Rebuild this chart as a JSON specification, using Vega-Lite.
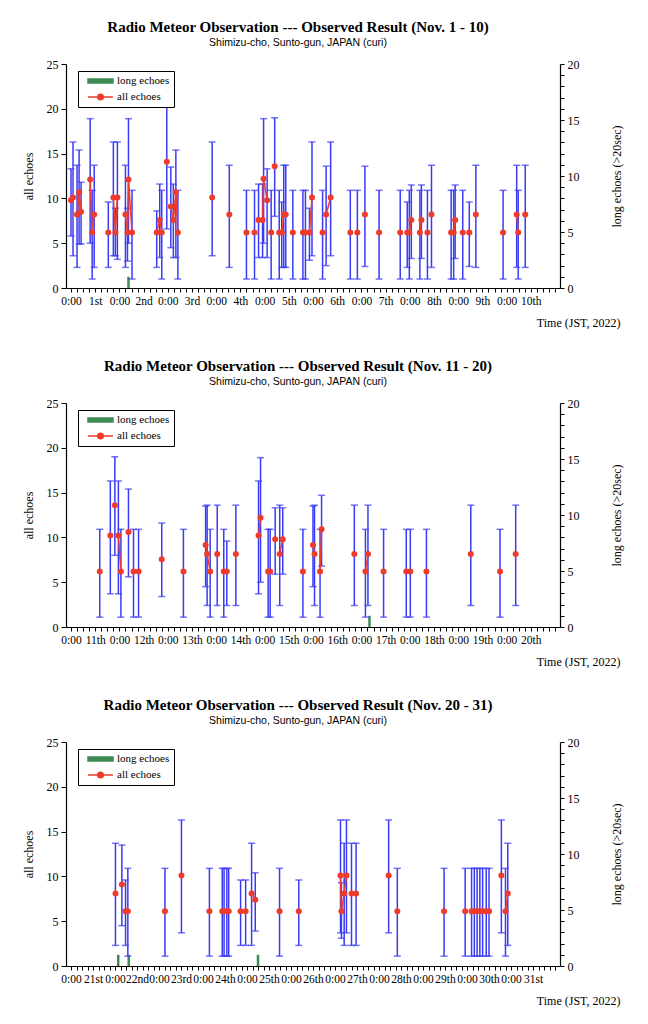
{
"$schema": "https://vega.github.io/schema/vega-lite/v6.json",
"padding": {"left": 22, "top": 19, "right": 5, "bottom": 5},
"datasets": {
"long": [
{"p":1,"t":"2022-11-02T04:30:00Z","n":1},
{"p":2,"t":"2022-11-17T04:00:00Z","n":1},
{"p":3,"t":"2022-11-22T01:45:00Z","n":1},
{"p":3,"t":"2022-11-22T07:30:00Z","n":1},
{"p":3,"t":"2022-11-25T06:00:00Z","n":1}
],
"echoes": [
{"p":1,"t":"2022-11-01T00:00:00Z","v":9.8,"lo":5.8,"hi":13.3,"s":"a1"},
{"p":1,"t":"2022-11-01T01:00:00Z","v":10.1,"lo":3.6,"hi":16.3,"s":"a1"},
{"p":1,"t":"2022-11-01T03:00:00Z","v":8.2,"lo":2.3,"hi":13.7,"s":"a2"},
{"p":1,"t":"2022-11-01T04:00:00Z","v":10.7,"lo":4.9,"hi":15.4,"s":"a2"},
{"p":1,"t":"2022-11-01T05:00:00Z","v":8.5,"lo":4.9,"hi":11.8,"s":"a2"},
{"p":1,"t":"2022-11-01T09:30:00Z","v":12.1,"lo":5.0,"hi":18.9,"s":"a3"},
{"p":1,"t":"2022-11-01T10:30:00Z","v":6.2,"lo":1.0,"hi":10.9,"s":"a3"},
{"p":1,"t":"2022-11-01T11:30:00Z","v":8.2,"lo":2.3,"hi":13.7,"s":"a3"},
{"p":1,"t":"2022-11-01T18:30:00Z","v":6.2,"lo":2.3,"hi":9.6,"s":"a4"},
{"p":1,"t":"2022-11-01T21:00:00Z","v":10.1,"lo":3.6,"hi":16.3,"s":"a5"},
{"p":1,"t":"2022-11-01T22:00:00Z","v":6.2,"lo":3.6,"hi":8.9,"s":"a5"},
{"p":1,"t":"2022-11-01T23:00:00Z","v":10.1,"lo":3.2,"hi":16.3,"s":"a5"},
{"p":1,"t":"2022-11-02T03:00:00Z","v":8.2,"lo":2.3,"hi":13.7,"s":"a6"},
{"p":1,"t":"2022-11-02T04:00:00Z","v":6.2,"lo":3.0,"hi":8.9,"s":"a6"},
{"p":1,"t":"2022-11-02T04:30:00Z","v":12.1,"lo":5.0,"hi":18.9,"s":"a6"},
{"p":1,"t":"2022-11-02T06:15:00Z","v":6.2,"lo":1.0,"hi":10.9,"s":"a6"},
{"p":1,"t":"2022-11-02T18:30:00Z","v":6.2,"lo":2.3,"hi":8.6,"s":"a7"},
{"p":1,"t":"2022-11-02T20:00:00Z","v":7.6,"lo":3.4,"hi":11.6,"s":"a7"},
{"p":1,"t":"2022-11-02T21:00:00Z","v":6.2,"lo":1.0,"hi":10.9,"s":"a7"},
{"p":1,"t":"2022-11-02T23:30:00Z","v":14.1,"lo":6.6,"hi":22.0,"s":"a8"},
{"p":1,"t":"2022-11-03T01:30:00Z","v":9.1,"lo":4.5,"hi":13.5,"s":"a9"},
{"p":1,"t":"2022-11-03T02:45:00Z","v":7.6,"lo":3.4,"hi":11.6,"s":"a9"},
{"p":1,"t":"2022-11-03T04:00:00Z","v":10.7,"lo":3.4,"hi":15.4,"s":"a9"},
{"p":1,"t":"2022-11-03T05:00:00Z","v":6.2,"lo":1.0,"hi":10.9,"s":"a9"},
{"p":1,"t":"2022-11-03T22:00:00Z","v":10.1,"lo":3.6,"hi":16.3,"s":"a10"},
{"p":1,"t":"2022-11-04T06:30:00Z","v":8.2,"lo":2.3,"hi":13.7,"s":"a11"},
{"p":1,"t":"2022-11-04T15:00:00Z","v":6.2,"lo":1.0,"hi":10.9,"s":"a12"},
{"p":1,"t":"2022-11-04T19:00:00Z","v":6.2,"lo":1.0,"hi":10.9,"s":"a13"},
{"p":1,"t":"2022-11-04T21:00:00Z","v":7.6,"lo":3.4,"hi":11.6,"s":"a14"},
{"p":1,"t":"2022-11-04T23:00:00Z","v":7.6,"lo":3.4,"hi":11.6,"s":"a15"},
{"p":1,"t":"2022-11-04T23:30:00Z","v":12.2,"lo":5.0,"hi":18.9,"s":"a15"},
{"p":1,"t":"2022-11-05T01:15:00Z","v":9.8,"lo":3.4,"hi":13.3,"s":"a15"},
{"p":1,"t":"2022-11-05T03:15:00Z","v":6.2,"lo":1.0,"hi":10.9,"s":"a16"},
{"p":1,"t":"2022-11-05T05:00:00Z","v":13.6,"lo":8.0,"hi":19.0,"s":"a17"},
{"p":1,"t":"2022-11-05T07:15:00Z","v":6.2,"lo":1.0,"hi":10.9,"s":"a18"},
{"p":1,"t":"2022-11-05T08:30:00Z","v":6.2,"lo":2.3,"hi":9.6,"s":"a19"},
{"p":1,"t":"2022-11-05T09:30:00Z","v":8.2,"lo":2.3,"hi":13.7,"s":"a19"},
{"p":1,"t":"2022-11-05T10:30:00Z","v":8.2,"lo":2.3,"hi":13.7,"s":"a19"},
{"p":1,"t":"2022-11-05T14:00:00Z","v":6.2,"lo":1.0,"hi":10.9,"s":"a20"},
{"p":1,"t":"2022-11-05T19:00:00Z","v":6.2,"lo":1.0,"hi":10.9,"s":"a21"},
{"p":1,"t":"2022-11-05T20:15:00Z","v":6.2,"lo":1.0,"hi":10.9,"s":"a21"},
{"p":1,"t":"2022-11-05T22:15:00Z","v":6.2,"lo":3.1,"hi":8.9,"s":"a22"},
{"p":1,"t":"2022-11-05T23:30:00Z","v":10.1,"lo":3.6,"hi":16.3,"s":"a22"},
{"p":1,"t":"2022-11-06T04:45:00Z","v":6.2,"lo":1.0,"hi":10.9,"s":"a23"},
{"p":1,"t":"2022-11-06T06:30:00Z","v":8.2,"lo":2.5,"hi":13.6,"s":"a24"},
{"p":1,"t":"2022-11-06T08:45:00Z","v":10.1,"lo":3.6,"hi":16.3,"s":"a24"},
{"p":1,"t":"2022-11-06T18:30:00Z","v":6.2,"lo":1.0,"hi":10.9,"s":"a25"},
{"p":1,"t":"2022-11-06T22:00:00Z","v":6.2,"lo":1.0,"hi":10.9,"s":"a26"},
{"p":1,"t":"2022-11-07T01:45:00Z","v":8.2,"lo":2.4,"hi":13.6,"s":"a27"},
{"p":1,"t":"2022-11-07T08:45:00Z","v":6.2,"lo":1.0,"hi":10.9,"s":"a28"},
{"p":1,"t":"2022-11-07T19:15:00Z","v":6.2,"lo":1.0,"hi":10.9,"s":"a29"},
{"p":1,"t":"2022-11-07T22:45:00Z","v":6.2,"lo":2.3,"hi":9.6,"s":"a30"},
{"p":1,"t":"2022-11-07T23:45:00Z","v":6.2,"lo":1.0,"hi":10.9,"s":"a30"},
{"p":1,"t":"2022-11-08T00:45:00Z","v":7.6,"lo":3.3,"hi":11.5,"s":"a30"},
{"p":1,"t":"2022-11-08T05:00:00Z","v":6.2,"lo":1.0,"hi":10.9,"s":"a31"},
{"p":1,"t":"2022-11-08T05:45:00Z","v":7.6,"lo":3.3,"hi":11.5,"s":"a31"},
{"p":1,"t":"2022-11-08T08:45:00Z","v":6.2,"lo":1.0,"hi":10.9,"s":"a32"},
{"p":1,"t":"2022-11-08T10:45:00Z","v":8.2,"lo":2.3,"hi":13.7,"s":"a33"},
{"p":1,"t":"2022-11-08T20:30:00Z","v":6.2,"lo":1.0,"hi":10.9,"s":"a34"},
{"p":1,"t":"2022-11-08T21:45:00Z","v":6.2,"lo":1.0,"hi":10.9,"s":"a35"},
{"p":1,"t":"2022-11-08T22:30:00Z","v":7.6,"lo":3.3,"hi":11.5,"s":"a35"},
{"p":1,"t":"2022-11-09T02:15:00Z","v":6.2,"lo":1.0,"hi":10.9,"s":"a36"},
{"p":1,"t":"2022-11-09T05:30:00Z","v":6.2,"lo":2.4,"hi":9.6,"s":"a37"},
{"p":1,"t":"2022-11-09T08:45:00Z","v":8.2,"lo":2.3,"hi":13.7,"s":"a38"},
{"p":1,"t":"2022-11-09T22:15:00Z","v":6.2,"lo":1.0,"hi":10.9,"s":"a39"},
{"p":1,"t":"2022-11-10T05:00:00Z","v":8.2,"lo":2.3,"hi":13.7,"s":"a40"},
{"p":1,"t":"2022-11-10T05:45:00Z","v":6.2,"lo":1.0,"hi":10.9,"s":"a40"},
{"p":1,"t":"2022-11-10T09:15:00Z","v":8.2,"lo":2.3,"hi":13.7,"s":"a41"},
{"p":2,"t":"2022-11-11T14:15:00Z","v":6.2,"lo":1.1,"hi":10.9,"s":"b1"},
{"p":2,"t":"2022-11-11T19:30:00Z","v":10.2,"lo":3.7,"hi":16.3,"s":"b2"},
{"p":2,"t":"2022-11-11T21:45:00Z","v":13.6,"lo":8.0,"hi":19.0,"s":"b3"},
{"p":2,"t":"2022-11-11T23:30:00Z","v":10.2,"lo":3.7,"hi":16.3,"s":"b4"},
{"p":2,"t":"2022-11-12T00:45:00Z","v":6.2,"lo":1.1,"hi":10.9,"s":"b4"},
{"p":2,"t":"2022-11-12T04:30:00Z","v":10.6,"lo":5.6,"hi":15.4,"s":"b5"},
{"p":2,"t":"2022-11-12T07:00:00Z","v":6.2,"lo":1.1,"hi":10.9,"s":"b6"},
{"p":2,"t":"2022-11-12T09:30:00Z","v":6.2,"lo":1.1,"hi":10.9,"s":"b7"},
{"p":2,"t":"2022-11-12T21:00:00Z","v":7.55,"lo":3.4,"hi":11.6,"s":"b8"},
{"p":2,"t":"2022-11-13T07:45:00Z","v":6.2,"lo":1.1,"hi":10.9,"s":"b9"},
{"p":2,"t":"2022-11-13T18:45:00Z","v":9.15,"lo":4.5,"hi":13.5,"s":"b10"},
{"p":2,"t":"2022-11-13T19:30:00Z","v":8.15,"lo":2.4,"hi":13.6,"s":"b10"},
{"p":2,"t":"2022-11-13T21:00:00Z","v":6.2,"lo":1.1,"hi":10.9,"s":"b10"},
{"p":2,"t":"2022-11-14T00:30:00Z","v":8.15,"lo":2.4,"hi":13.6,"s":"b11"},
{"p":2,"t":"2022-11-14T03:45:00Z","v":6.2,"lo":1.1,"hi":10.9,"s":"b12"},
{"p":2,"t":"2022-11-14T05:15:00Z","v":6.2,"lo":2.4,"hi":9.6,"s":"b12"},
{"p":2,"t":"2022-11-14T09:45:00Z","v":8.15,"lo":2.4,"hi":13.6,"s":"b13"},
{"p":2,"t":"2022-11-14T21:00:00Z","v":10.2,"lo":3.7,"hi":16.3,"s":"b14"},
{"p":2,"t":"2022-11-14T22:00:00Z","v":12.2,"lo":5.0,"hi":18.9,"s":"b14"},
{"p":2,"t":"2022-11-15T01:45:00Z","v":6.2,"lo":1.1,"hi":10.9,"s":"b15"},
{"p":2,"t":"2022-11-15T02:45:00Z","v":6.2,"lo":1.1,"hi":10.9,"s":"b15"},
{"p":2,"t":"2022-11-15T05:15:00Z","v":9.8,"lo":5.9,"hi":13.3,"s":"b16"},
{"p":2,"t":"2022-11-15T07:30:00Z","v":8.15,"lo":2.4,"hi":13.6,"s":"b17"},
{"p":2,"t":"2022-11-15T09:00:00Z","v":9.8,"lo":5.9,"hi":13.3,"s":"b17"},
{"p":2,"t":"2022-11-15T19:00:00Z","v":6.2,"lo":1.1,"hi":10.9,"s":"b18"},
{"p":2,"t":"2022-11-16T00:00:00Z","v":9.15,"lo":4.5,"hi":13.5,"s":"b19"},
{"p":2,"t":"2022-11-16T00:45:00Z","v":8.15,"lo":2.4,"hi":13.6,"s":"b19"},
{"p":2,"t":"2022-11-16T03:30:00Z","v":6.2,"lo":1.1,"hi":10.9,"s":"b20"},
{"p":2,"t":"2022-11-16T04:15:00Z","v":10.9,"lo":6.8,"hi":14.7,"s":"b20"},
{"p":2,"t":"2022-11-16T20:30:00Z","v":8.15,"lo":2.4,"hi":13.6,"s":"b21"},
{"p":2,"t":"2022-11-17T02:00:00Z","v":6.2,"lo":1.1,"hi":10.9,"s":"b22"},
{"p":2,"t":"2022-11-17T03:15:00Z","v":8.15,"lo":2.4,"hi":13.6,"s":"b22"},
{"p":2,"t":"2022-11-17T11:00:00Z","v":6.2,"lo":1.1,"hi":10.9,"s":"b23"},
{"p":2,"t":"2022-11-17T22:15:00Z","v":6.2,"lo":1.1,"hi":10.9,"s":"b24"},
{"p":2,"t":"2022-11-18T00:15:00Z","v":6.2,"lo":1.1,"hi":10.9,"s":"b25"},
{"p":2,"t":"2022-11-18T08:15:00Z","v":6.2,"lo":1.1,"hi":10.9,"s":"b26"},
{"p":2,"t":"2022-11-19T06:15:00Z","v":8.15,"lo":2.4,"hi":13.6,"s":"b27"},
{"p":2,"t":"2022-11-19T20:45:00Z","v":6.2,"lo":1.1,"hi":10.9,"s":"b28"},
{"p":2,"t":"2022-11-20T04:30:00Z","v":8.15,"lo":2.4,"hi":13.6,"s":"b29"},
{"p":3,"t":"2022-11-22T00:15:00Z","v":8.1,"lo":2.3,"hi":13.7,"s":"c1"},
{"p":3,"t":"2022-11-22T03:45:00Z","v":9.1,"lo":4.5,"hi":13.5,"s":"c2"},
{"p":3,"t":"2022-11-22T05:45:00Z","v":6.1,"lo":2.3,"hi":9.6,"s":"c3"},
{"p":3,"t":"2022-11-22T07:00:00Z","v":6.1,"lo":1.1,"hi":10.9,"s":"c3"},
{"p":3,"t":"2022-11-23T03:15:00Z","v":6.1,"lo":1.1,"hi":10.9,"s":"c4"},
{"p":3,"t":"2022-11-23T12:15:00Z","v":10.1,"lo":3.7,"hi":16.3,"s":"c5"},
{"p":3,"t":"2022-11-24T03:30:00Z","v":6.1,"lo":1.1,"hi":10.9,"s":"c6"},
{"p":3,"t":"2022-11-24T10:30:00Z","v":6.1,"lo":1.1,"hi":10.9,"s":"c7"},
{"p":3,"t":"2022-11-24T11:30:00Z","v":6.1,"lo":1.1,"hi":10.9,"s":"c7"},
{"p":3,"t":"2022-11-24T13:00:00Z","v":6.1,"lo":1.1,"hi":10.9,"s":"c8"},
{"p":3,"t":"2022-11-24T14:00:00Z","v":6.1,"lo":1.1,"hi":10.9,"s":"c8"},
{"p":3,"t":"2022-11-24T20:30:00Z","v":6.1,"lo":2.3,"hi":9.6,"s":"c9"},
{"p":3,"t":"2022-11-24T23:15:00Z","v":6.1,"lo":2.3,"hi":9.6,"s":"c10"},
{"p":3,"t":"2022-11-25T02:30:00Z","v":8.1,"lo":2.3,"hi":13.7,"s":"c11"},
{"p":3,"t":"2022-11-25T04:30:00Z","v":7.4,"lo":3.9,"hi":10.4,"s":"c11"},
{"p":3,"t":"2022-11-25T17:45:00Z","v":6.1,"lo":1.1,"hi":10.9,"s":"c12"},
{"p":3,"t":"2022-11-26T04:15:00Z","v":6.1,"lo":2.3,"hi":9.6,"s":"c13"},
{"p":3,"t":"2022-11-27T03:00:00Z","v":10.1,"lo":3.7,"hi":16.3,"s":"c14"},
{"p":3,"t":"2022-11-27T03:30:00Z","v":6.1,"lo":3.1,"hi":9.3,"s":"c14"},
{"p":3,"t":"2022-11-27T05:00:00Z","v":8.1,"lo":2.3,"hi":13.7,"s":"c14"},
{"p":3,"t":"2022-11-27T06:15:00Z","v":10.1,"lo":3.7,"hi":16.3,"s":"c14"},
{"p":3,"t":"2022-11-27T09:00:00Z","v":8.1,"lo":2.3,"hi":13.7,"s":"c15"},
{"p":3,"t":"2022-11-27T11:30:00Z","v":8.1,"lo":2.3,"hi":13.7,"s":"c15"},
{"p":3,"t":"2022-11-28T05:15:00Z","v":10.1,"lo":3.7,"hi":16.3,"s":"c16"},
{"p":3,"t":"2022-11-28T10:00:00Z","v":6.1,"lo":1.1,"hi":10.9,"s":"c17"},
{"p":3,"t":"2022-11-29T11:30:00Z","v":6.1,"lo":1.1,"hi":10.9,"s":"c18"},
{"p":3,"t":"2022-11-29T23:00:00Z","v":6.1,"lo":1.1,"hi":10.9,"s":"c19"},
{"p":3,"t":"2022-11-30T02:30:00Z","v":6.1,"lo":1.1,"hi":10.9,"s":"c20"},
{"p":3,"t":"2022-11-30T04:00:00Z","v":6.1,"lo":1.1,"hi":10.9,"s":"c20"},
{"p":3,"t":"2022-11-30T05:30:00Z","v":6.1,"lo":1.1,"hi":10.9,"s":"c21"},
{"p":3,"t":"2022-11-30T07:00:00Z","v":6.1,"lo":1.1,"hi":10.9,"s":"c21"},
{"p":3,"t":"2022-11-30T08:30:00Z","v":6.1,"lo":1.1,"hi":10.9,"s":"c21"},
{"p":3,"t":"2022-11-30T10:30:00Z","v":6.1,"lo":1.1,"hi":10.9,"s":"c22"},
{"p":3,"t":"2022-11-30T12:00:00Z","v":6.1,"lo":1.1,"hi":10.9,"s":"c22"},
{"p":3,"t":"2022-11-30T18:45:00Z","v":10.1,"lo":3.7,"hi":16.3,"s":"c23"},
{"p":3,"t":"2022-11-30T21:00:00Z","v":6.1,"lo":1.1,"hi":10.9,"s":"c24"},
{"p":3,"t":"2022-11-30T22:15:00Z","v":8.1,"lo":2.3,"hi":13.7,"s":"c24"}
]
},
"spacing": 30,
"resolve": {"scale": {"x": "independent", "y": "independent", "color": "independent"}, "legend": {"color": "independent"}},
"vconcat": [
{
"title": {"text": "Radio Meteor Observation --- Observed Result (Nov. 1 - 10)", "subtitle": "Shimizu-cho, Sunto-gun, JAPAN (curi)"},
"width": 494, "height": 224,
"resolve": {"scale": {"y": "independent"}},
"layer": [
{"data": {"name": "long"}, "transform": [{"filter": "datum.p == 1"}],
"mark": {"type": "bar", "width": 2.5},
"encoding": {
"x": {"field": "t", "type": "temporal", "scale": {"type": "utc", "nice": false, "domain": [{"year": 2022, "month": 11, "date": 1, "utc": true}, {"year": 2022, "month": 11, "date": 11, "utc": true}]},
"axis": {"title": "Time (JST, 2022)", "tickCount": 80, "labelExpr": "utchours(datum.value) == 12 ? (utcdate(datum.value) + (utcdate(datum.value) == 1 || utcdate(datum.value) == 21 ? 'st' : (utcdate(datum.value) == 2 || utcdate(datum.value) == 22 ? 'nd' : (utcdate(datum.value) == 3 || utcdate(datum.value) == 23 ? 'rd' : 'th')))) : (utchours(datum.value) == 0 && utcdate(datum.value) != 11 ? '0:00' : '')", "labelFlush": false, "labelAngle": 0, "labelFontSize": 11.5, "labelPadding": 3, "tickSize": 4, "titleX": 554, "titleY": 38, "titleAlign": "right", "titleBaseline": "alphabetic"}},
"y": {"field": "n", "type": "quantitative", "scale": {"domain": [0, 20], "nice": false},
"axis": {"orient": "right", "title": "long echoes (>20sec)", "tickCount": 20, "labelExpr": "datum.value % 5 == 0 ? datum.label : ''", "tickSize": 4, "labelPadding": 3, "titleX": 56, "titleY": 112, "titleAngle": 270, "titleAlign": "center", "titleBaseline": "middle"}},
"color": {"datum": "long echoes", "scale": {"domain": ["long echoes", "all echoes"], "range": ["#3d8c54", "#ee3b2b"]},
"legend": {"title": null, "orient": "none", "legendX": 12, "legendY": 7,
"encode": {"symbols": {"update": {
"shape": {"signal": "datum.value == 'long echoes' ? 'M0,-0.4H5V0.4H0Z' : 'M0,0H5M1.94,0A0.56,0.56,0,1,1,3.06,0A0.56,0.56,0,1,1,1.94,0Z'"},
"fill": {"signal": "datum.value == 'long echoes' ? '#3d8c54' : '#ee3b2b'"},
"stroke": {"signal": "datum.value == 'long echoes' ? '#3d8c54' : '#ee3b2b'"}}}}}}
}},
{"data": {"name": "echoes"}, "transform": [{"filter": "datum.p == 1"}],
"layer": [
{"mark": {"type": "rule", "color": "#3a3af6", "strokeWidth": 1.5},
"encoding": {"x": {"field": "t", "type": "temporal"}, "y": {"field": "lo", "type": "quantitative", "scale": {"domain": [0, 25], "nice": false}, "axis": {"title": "all echoes", "values": [0, 5, 10, 15, 20, 25], "tickSize": 5, "labelPadding": 3, "titleX": -38, "titleY": 112, "titleAngle": 270, "titleAlign": "center", "titleBaseline": "middle"}}, "y2": {"field": "hi"}}},
{"mark": {"type": "tick", "orient": "horizontal", "size": 7, "thickness": 1.5, "color": "#3a3af6"},
"encoding": {"x": {"field": "t", "type": "temporal"}, "y": {"field": "lo", "type": "quantitative"}}},
{"mark": {"type": "tick", "orient": "horizontal", "size": 7, "thickness": 1.5, "color": "#3a3af6"},
"encoding": {"x": {"field": "t", "type": "temporal"}, "y": {"field": "hi", "type": "quantitative"}}},
{"mark": {"type": "line", "strokeWidth": 1.5},
"encoding": {"x": {"field": "t", "type": "temporal"}, "y": {"field": "v", "type": "quantitative"}, "detail": {"field": "s"}, "color": {"datum": "all echoes"}}},
{"mark": {"type": "point", "filled": true, "size": 36, "opacity": 1},
"encoding": {"x": {"field": "t", "type": "temporal"}, "y": {"field": "v", "type": "quantitative"}, "color": {"datum": "all echoes"}}}
]}
]
},
{
"title": {"text": "Radio Meteor Observation --- Observed Result (Nov. 11 - 20)", "subtitle": "Shimizu-cho, Sunto-gun, JAPAN (curi)"},
"width": 494, "height": 224,
"resolve": {"scale": {"y": "independent"}},
"layer": [
{"data": {"name": "long"}, "transform": [{"filter": "datum.p == 2"}],
"mark": {"type": "bar", "width": 2.5},
"encoding": {
"x": {"field": "t", "type": "temporal", "scale": {"type": "utc", "nice": false, "domain": [{"year": 2022, "month": 11, "date": 11, "utc": true}, {"year": 2022, "month": 11, "date": 21, "utc": true}]},
"axis": {"title": "Time (JST, 2022)", "tickCount": 80, "labelExpr": "utchours(datum.value) == 12 ? (utcdate(datum.value) + (utcdate(datum.value) == 1 || utcdate(datum.value) == 21 ? 'st' : (utcdate(datum.value) == 2 || utcdate(datum.value) == 22 ? 'nd' : (utcdate(datum.value) == 3 || utcdate(datum.value) == 23 ? 'rd' : 'th')))) : (utchours(datum.value) == 0 && utcdate(datum.value) != 21 ? '0:00' : '')", "labelFlush": false, "labelAngle": 0, "labelFontSize": 11.5, "labelPadding": 3, "tickSize": 4, "titleX": 554, "titleY": 38, "titleAlign": "right", "titleBaseline": "alphabetic"}},
"y": {"field": "n", "type": "quantitative", "scale": {"domain": [0, 20], "nice": false},
"axis": {"orient": "right", "title": "long echoes (>20sec)", "tickCount": 20, "labelExpr": "datum.value % 5 == 0 ? datum.label : ''", "tickSize": 4, "labelPadding": 3, "titleX": 56, "titleY": 112, "titleAngle": 270, "titleAlign": "center", "titleBaseline": "middle"}},
"color": {"datum": "long echoes", "scale": {"domain": ["long echoes", "all echoes"], "range": ["#3d8c54", "#ee3b2b"]},
"legend": {"title": null, "orient": "none", "legendX": 12, "legendY": 7,
"encode": {"symbols": {"update": {
"shape": {"signal": "datum.value == 'long echoes' ? 'M0,-0.4H5V0.4H0Z' : 'M0,0H5M1.94,0A0.56,0.56,0,1,1,3.06,0A0.56,0.56,0,1,1,1.94,0Z'"},
"fill": {"signal": "datum.value == 'long echoes' ? '#3d8c54' : '#ee3b2b'"},
"stroke": {"signal": "datum.value == 'long echoes' ? '#3d8c54' : '#ee3b2b'"}}}}}}
}},
{"data": {"name": "echoes"}, "transform": [{"filter": "datum.p == 2"}],
"layer": [
{"mark": {"type": "rule", "color": "#3a3af6", "strokeWidth": 1.5},
"encoding": {"x": {"field": "t", "type": "temporal"}, "y": {"field": "lo", "type": "quantitative", "scale": {"domain": [0, 25], "nice": false}, "axis": {"title": "all echoes", "values": [0, 5, 10, 15, 20, 25], "tickSize": 5, "labelPadding": 3, "titleX": -38, "titleY": 112, "titleAngle": 270, "titleAlign": "center", "titleBaseline": "middle"}}, "y2": {"field": "hi"}}},
{"mark": {"type": "tick", "orient": "horizontal", "size": 7, "thickness": 1.5, "color": "#3a3af6"},
"encoding": {"x": {"field": "t", "type": "temporal"}, "y": {"field": "lo", "type": "quantitative"}}},
{"mark": {"type": "tick", "orient": "horizontal", "size": 7, "thickness": 1.5, "color": "#3a3af6"},
"encoding": {"x": {"field": "t", "type": "temporal"}, "y": {"field": "hi", "type": "quantitative"}}},
{"mark": {"type": "line", "strokeWidth": 1.5},
"encoding": {"x": {"field": "t", "type": "temporal"}, "y": {"field": "v", "type": "quantitative"}, "detail": {"field": "s"}, "color": {"datum": "all echoes"}}},
{"mark": {"type": "point", "filled": true, "size": 36, "opacity": 1},
"encoding": {"x": {"field": "t", "type": "temporal"}, "y": {"field": "v", "type": "quantitative"}, "color": {"datum": "all echoes"}}}
]}
]
},
{
"title": {"text": "Radio Meteor Observation --- Observed Result (Nov. 20 - 31)", "subtitle": "Shimizu-cho, Sunto-gun, JAPAN (curi)"},
"width": 494, "height": 224,
"resolve": {"scale": {"y": "independent"}},
"layer": [
{"data": {"name": "long"}, "transform": [{"filter": "datum.p == 3"}],
"mark": {"type": "bar", "width": 2.5},
"encoding": {
"x": {"field": "t", "type": "temporal", "scale": {"type": "utc", "nice": false, "domain": [{"year": 2022, "month": 11, "date": 21, "utc": true}, {"year": 2022, "month": 12, "date": 2, "utc": true}]},
"axis": {"title": "Time (JST, 2022)", "tickCount": 88, "labelExpr": "utchours(datum.value) == 12 ? (utcmonth(datum.value) == 11 ? '31st' : (utcdate(datum.value) + (utcdate(datum.value) == 21 ? 'st' : (utcdate(datum.value) == 22 ? 'nd' : (utcdate(datum.value) == 23 ? 'rd' : 'th'))))) : (utchours(datum.value) == 0 && utcdate(datum.value) != 2 ? '0:00' : '')", "labelFlush": false, "labelAngle": 0, "labelFontSize": 11.5, "labelPadding": 3, "tickSize": 4, "titleX": 554, "titleY": 38, "titleAlign": "right", "titleBaseline": "alphabetic"}},
"y": {"field": "n", "type": "quantitative", "scale": {"domain": [0, 20], "nice": false},
"axis": {"orient": "right", "title": "long echoes (>20sec)", "tickCount": 20, "labelExpr": "datum.value % 5 == 0 ? datum.label : ''", "tickSize": 4, "labelPadding": 3, "titleX": 56, "titleY": 112, "titleAngle": 270, "titleAlign": "center", "titleBaseline": "middle"}},
"color": {"datum": "long echoes", "scale": {"domain": ["long echoes", "all echoes"], "range": ["#3d8c54", "#ee3b2b"]},
"legend": {"title": null, "orient": "none", "legendX": 12, "legendY": 7,
"encode": {"symbols": {"update": {
"shape": {"signal": "datum.value == 'long echoes' ? 'M0,-0.4H5V0.4H0Z' : 'M0,0H5M1.94,0A0.56,0.56,0,1,1,3.06,0A0.56,0.56,0,1,1,1.94,0Z'"},
"fill": {"signal": "datum.value == 'long echoes' ? '#3d8c54' : '#ee3b2b'"},
"stroke": {"signal": "datum.value == 'long echoes' ? '#3d8c54' : '#ee3b2b'"}}}}}}
}},
{"data": {"name": "echoes"}, "transform": [{"filter": "datum.p == 3"}],
"layer": [
{"mark": {"type": "rule", "color": "#3a3af6", "strokeWidth": 1.5},
"encoding": {"x": {"field": "t", "type": "temporal"}, "y": {"field": "lo", "type": "quantitative", "scale": {"domain": [0, 25], "nice": false}, "axis": {"title": "all echoes", "values": [0, 5, 10, 15, 20, 25], "tickSize": 5, "labelPadding": 3, "titleX": -38, "titleY": 112, "titleAngle": 270, "titleAlign": "center", "titleBaseline": "middle"}}, "y2": {"field": "hi"}}},
{"mark": {"type": "tick", "orient": "horizontal", "size": 7, "thickness": 1.5, "color": "#3a3af6"},
"encoding": {"x": {"field": "t", "type": "temporal"}, "y": {"field": "lo", "type": "quantitative"}}},
{"mark": {"type": "tick", "orient": "horizontal", "size": 7, "thickness": 1.5, "color": "#3a3af6"},
"encoding": {"x": {"field": "t", "type": "temporal"}, "y": {"field": "hi", "type": "quantitative"}}},
{"mark": {"type": "line", "strokeWidth": 1.5},
"encoding": {"x": {"field": "t", "type": "temporal"}, "y": {"field": "v", "type": "quantitative"}, "detail": {"field": "s"}, "color": {"datum": "all echoes"}}},
{"mark": {"type": "point", "filled": true, "size": 36, "opacity": 1},
"encoding": {"x": {"field": "t", "type": "temporal"}, "y": {"field": "v", "type": "quantitative"}, "color": {"datum": "all echoes"}}}
]}
]
}
],
"config": {
"font": "Liberation Serif",
"view": {"stroke": null},
"axis": {"grid": false, "domainColor": "#000", "domainWidth": 1.2, "tickColor": "#000", "labelColor": "#000", "titleColor": "#000", "labelFont": "Liberation Serif", "titleFont": "Liberation Serif", "titleFontWeight": "normal", "labelFontSize": 12, "titleFontSize": 12, "labelOverlap": false},
"title": {"font": "Liberation Serif", "fontSize": 15, "fontWeight": "bold", "color": "#000", "subtitleFont": "Liberation Sans", "subtitleFontSize": 10.5, "subtitleColor": "#000", "subtitlePadding": 3, "offset": 10, "anchor": "middle", "dx": -15},
"legend": {"symbolSize": 100, "symbolStrokeWidth": 1.5, "labelOffset": 23, "labelFont": "Liberation Serif", "labelFontSize": 11, "labelColor": "#000", "padding": 4, "rowPadding": 5, "strokeColor": "#000", "fillColor": "#fff"}
}
}
